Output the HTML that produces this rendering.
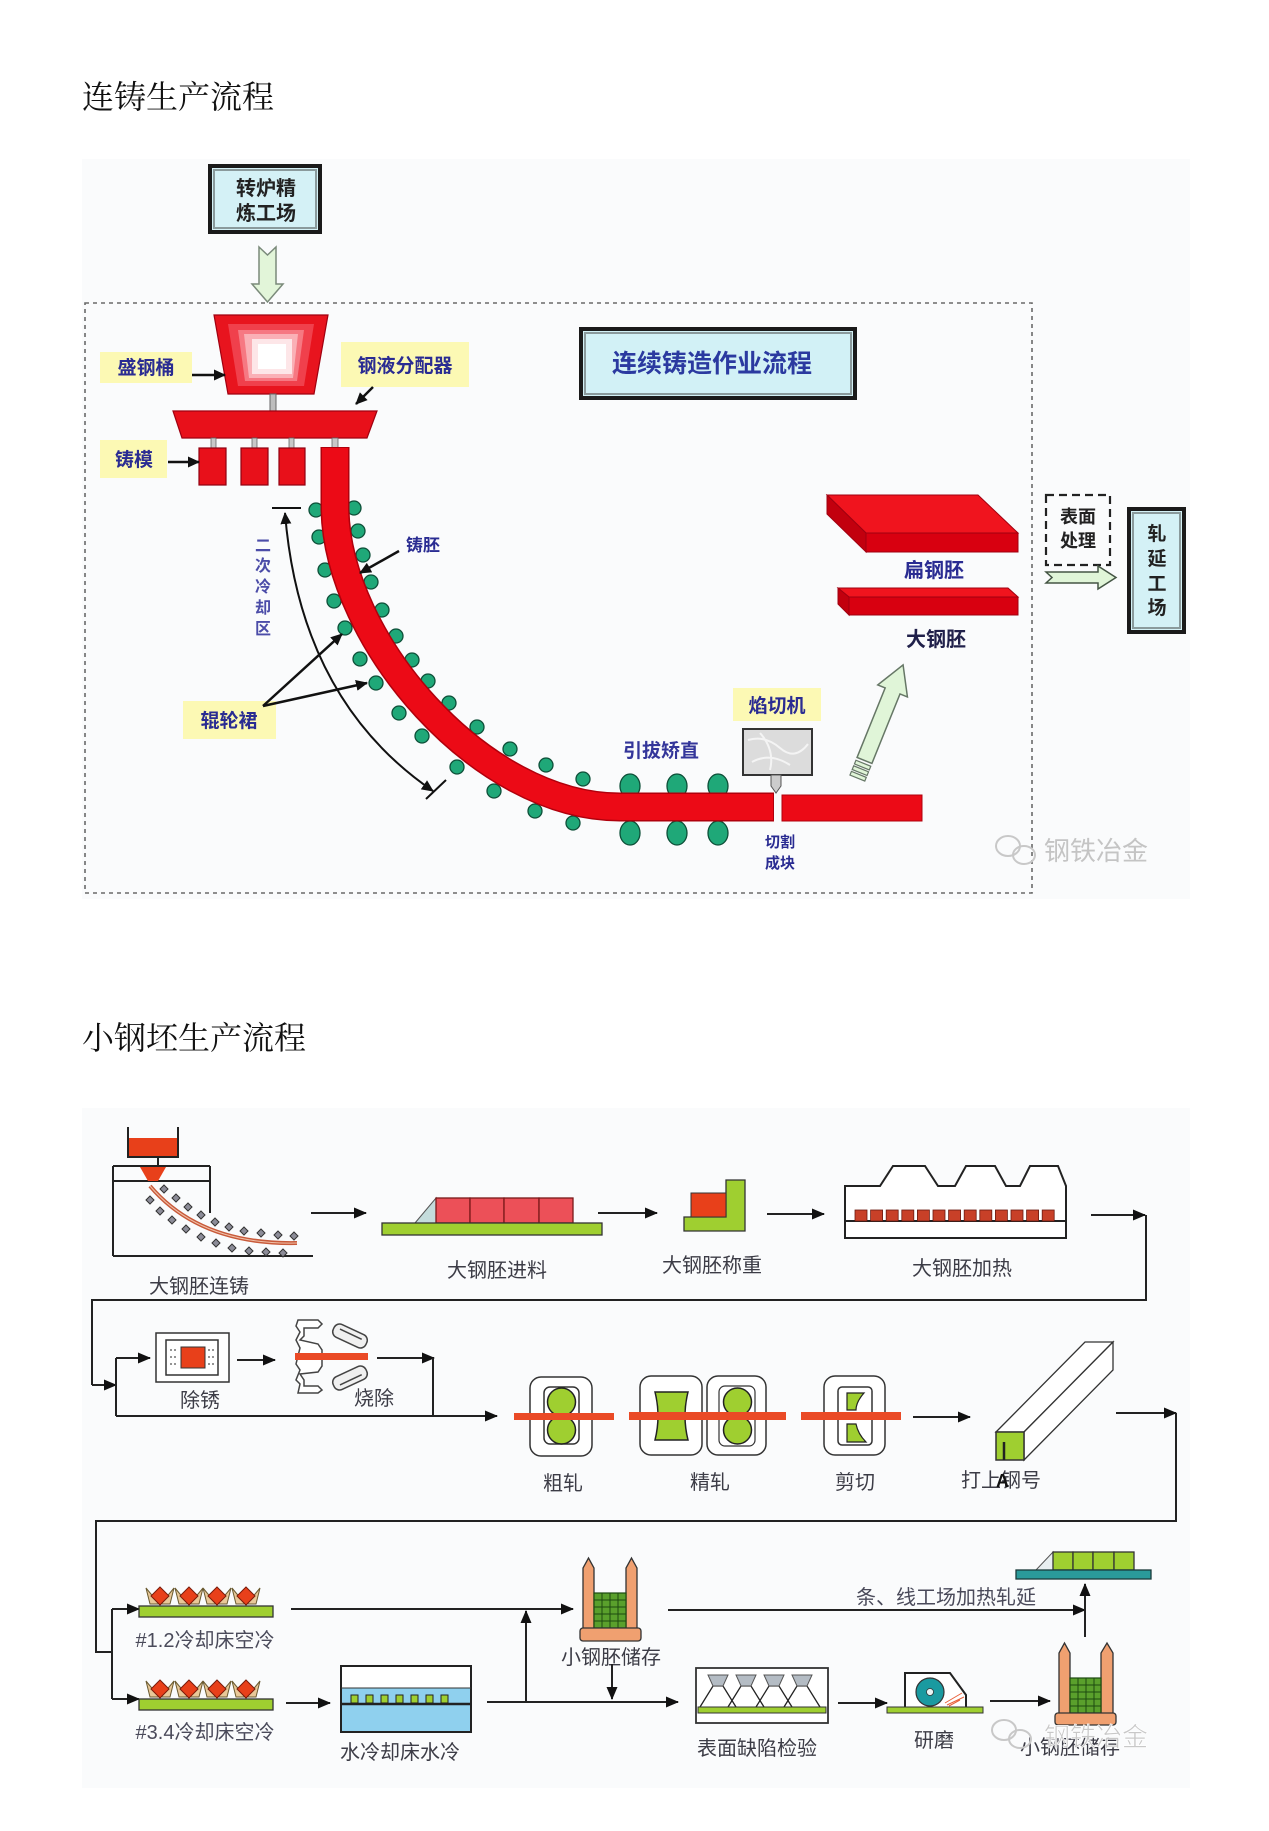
<!DOCTYPE html>
<html><head><meta charset="utf-8">
<style>
html,body{margin:0;padding:0;background:#fff;}
svg{display:block;}
text{font-family:"Liberation Sans","Noto Sans CJK SC",sans-serif;}
.ttl{font-family:"Liberation Serif","Noto Serif CJK SC",serif;font-size:32px;fill:#111;}
.lb{font-weight:bold;fill:#2a2c92;font-size:19px;text-anchor:middle;}
.gl{fill:#3c3c46;font-size:20px;text-anchor:middle;}
.wm{fill:#c4c4c4;font-size:26px;}
</style></head><body>
<svg width="1269" height="1831" viewBox="0 0 1269 1831" xmlns="http://www.w3.org/2000/svg">
<defs>
<marker id="ah" markerWidth="13" markerHeight="11" refX="12" refY="5.5" orient="auto" markerUnits="userSpaceOnUse"><path d="M0,0 L13,5.5 L0,11 z" fill="#111"/></marker>
<marker id="at" markerWidth="12" markerHeight="11" refX="11" refY="5.5" orient="auto" markerUnits="userSpaceOnUse"><path d="M0,0 L12,5.5 L0,11 z" fill="#111"/></marker>
<marker id="atr" markerWidth="12" markerHeight="11" refX="1" refY="5.5" orient="auto" markerUnits="userSpaceOnUse"><path d="M12,0 L0,5.5 L12,11 z" fill="#111"/></marker>
</defs>

<!-- ===== Title 1 ===== -->
<text class="ttl" x="82" y="108">连铸生产流程</text>

<!-- ===== Top diagram ===== -->
<rect x="82" y="159" width="1108" height="740" fill="#fafbfc"/>

<!-- 转炉精炼工场 box -->
<rect x="210" y="166" width="110" height="66" fill="#d4f1f6" stroke="#1a1a1a" stroke-width="4"/>
<rect x="214" y="170" width="102" height="58" fill="none" stroke="#8a9a9c" stroke-width="2"/>
<text x="266" y="195" text-anchor="middle" font-size="20" font-weight="bold" fill="#222">转炉精</text>
<text x="266" y="220" text-anchor="middle" font-size="20" font-weight="bold" fill="#222">炼工场</text>

<!-- down hollow arrow -->
<polygon points="259,247 267.5,255 276,247 276,284 283,284 267.5,302 252,284 259,284" fill="#e2f5d9" stroke="#7a8a7a" stroke-width="1.5"/>

<!-- dotted frame -->
<rect x="85" y="303" width="947" height="590" fill="none" stroke="#6a6a6a" stroke-width="1.6" stroke-dasharray="4,4"/>

<!-- 连续铸造作业流程 -->
<rect x="581" y="329" width="274" height="69" fill="#d2f1f6" stroke="#1a1a1a" stroke-width="4"/>
<rect x="585" y="333" width="266" height="61" fill="none" stroke="#8a9a9c" stroke-width="2"/>
<text x="712" y="372" text-anchor="middle" font-size="25" font-weight="bold" fill="#2b3aa0">连续铸造作业流程</text>

<!-- ladle -->
<polygon points="214,315 328,315 314,394 228,394" fill="#e8141e" stroke="#a00010" stroke-width="1.2"/>
<polygon points="228,324 314,324 304,386 238,386" fill="#f0404c"/>
<polygon points="238,330 304,330 297,381 245,381" fill="#f67882"/>
<polygon points="244,334 298,334 293,378 249,378" fill="#fab0b6"/>
<rect x="252" y="339" width="40" height="35" fill="#fde6e8"/>
<rect x="258" y="344" width="28" height="25" fill="#ffffff"/>
<rect x="270" y="394" width="6" height="17" fill="#bdbdbd" stroke="#666" stroke-width="1"/>

<!-- tundish -->
<polygon points="173,411 377,411 367,438 182,438" fill="#e8101a" stroke="#a00010" stroke-width="1.2"/>
<rect x="211" y="438" width="5" height="11" fill="#c8c8c8" stroke="#666" stroke-width="0.8"/>
<rect x="252" y="438" width="5" height="11" fill="#c8c8c8" stroke="#666" stroke-width="0.8"/>
<rect x="289" y="438" width="5" height="11" fill="#c8c8c8" stroke="#666" stroke-width="0.8"/>
<rect x="332" y="438" width="6" height="11" fill="#c8c8c8" stroke="#666" stroke-width="0.8"/>
<!-- molds -->
<rect x="199" y="448" width="27" height="37" fill="#e8101a" stroke="#900010" stroke-width="1.2"/>
<rect x="241" y="448" width="27" height="37" fill="#e8101a" stroke="#900010" stroke-width="1.2"/>
<rect x="279" y="448" width="26" height="37" fill="#e8101a" stroke="#900010" stroke-width="1.2"/>

<!-- rollers -->
<g fill="#1fa878" stroke="#0d4f38" stroke-width="1.3">
<circle cx="316" cy="510" r="7"/><circle cx="319" cy="537" r="7"/><circle cx="325" cy="570" r="7"/><circle cx="334" cy="601" r="7"/><circle cx="345" cy="628" r="7"/><circle cx="360" cy="659" r="7"/><circle cx="376" cy="683" r="7"/><circle cx="399" cy="713" r="7"/><circle cx="422" cy="736" r="7"/><circle cx="457" cy="767" r="7"/><circle cx="494" cy="791" r="7"/><circle cx="535" cy="811" r="7"/><circle cx="573" cy="823" r="7"/>
<circle cx="354" cy="508" r="7"/><circle cx="358" cy="531" r="7"/><circle cx="363" cy="555" r="7"/><circle cx="371" cy="582" r="7"/><circle cx="382" cy="610" r="7"/><circle cx="396" cy="636" r="7"/><circle cx="412" cy="660" r="7"/><circle cx="428" cy="681" r="7"/><circle cx="449" cy="703" r="7"/><circle cx="477" cy="727" r="7"/><circle cx="510" cy="749" r="7"/><circle cx="546" cy="765" r="7"/><circle cx="583" cy="779" r="7"/>
<ellipse cx="630" cy="786" rx="10" ry="12"/><ellipse cx="677" cy="786" rx="10" ry="12"/><ellipse cx="718" cy="786" rx="10" ry="12"/>
<ellipse cx="630" cy="833" rx="10" ry="12"/><ellipse cx="677" cy="833" rx="10" ry="12"/><ellipse cx="718" cy="833" rx="10" ry="12"/>
</g>

<!-- strand -->
<path d="M335,447 L335,510 C338,640 480,807 620,807 L774,807" fill="none" stroke="#b0000c" stroke-width="29"/>
<path d="M335,448 L335,510 C338,640 480,807 620,807 L773,807" fill="none" stroke="#ec0a16" stroke-width="26"/>
<rect x="782" y="795" width="140" height="26" fill="#ec0a16" stroke="#b0000c" stroke-width="1"/>

<!-- cutter -->
<rect x="743" y="729" width="69" height="46" fill="#dcdcdc" stroke="#333" stroke-width="2"/>
<path d="M748,740 Q765,735 780,748 T808,744 M752,762 Q770,752 790,765 M760,733 Q775,750 770,770" fill="none" stroke="#f4f4f4" stroke-width="2"/>
<path d="M771,775 L781,775 L781,786 L776,793 L771,786 Z" fill="#ccc" stroke="#555" stroke-width="1"/>
<rect x="733" y="688" width="88" height="33" fill="#fcf9b4"/>
<text class="lb" x="777" y="712" font-size="19">焰切机</text>
<text class="lb" x="780" y="847" style="font-size:15px">切割</text>
<text class="lb" x="780" y="868" style="font-size:15px">成块</text>
<text class="lb" x="661" y="757" style="font-size:19px;fill:#34369a">引拔矫直</text>

<!-- diagonal green arrow -->
<g transform="translate(857,779) rotate(22)">
<polygon points="-8,-20 -8,-95 -16,-95 0,-123 16,-95 8,-95 8,-20" fill="#e0f5d8" stroke="#667766" stroke-width="1.5"/>
<rect x="-8" y="-17" width="16" height="4" fill="#e0f5d8" stroke="#667766" stroke-width="1.2"/>
<rect x="-8" y="-11" width="16" height="4" fill="#e0f5d8" stroke="#667766" stroke-width="1.2"/>
<rect x="-8" y="-5" width="16" height="4" fill="#e0f5d8" stroke="#667766" stroke-width="1.2"/>
</g>

<!-- slabs -->
<polygon points="827,495 978,495 1018,533 866,533" fill="#f0141e" stroke="#a00010" stroke-width="1"/>
<polygon points="866,533 1018,533 1018,552 866,552" fill="#d80010" stroke="#a00010" stroke-width="1"/>
<polygon points="827,495 866,533 866,552 827,514" fill="#c2000e" stroke="#a00010" stroke-width="1"/>
<text class="lb" x="934" y="577" style="font-size:20px">扁钢胚</text>
<polygon points="838,588 1008,588 1018,597 849,597" fill="#f0141e" stroke="#a00010" stroke-width="1"/>
<polygon points="849,597 1018,597 1018,615 849,615" fill="#d80010" stroke="#a00010" stroke-width="1"/>
<polygon points="838,588 849,597 849,615 838,604" fill="#c2000e" stroke="#a00010" stroke-width="1"/>
<text x="936" y="646" text-anchor="middle" font-size="20" font-weight="bold" fill="#20204a">大钢胚</text>

<!-- 表面处理 -->
<rect x="1046" y="495" width="64" height="70" fill="none" stroke="#222" stroke-width="2.2" stroke-dasharray="8,5"/>
<text x="1078" y="523" text-anchor="middle" font-size="18" font-weight="bold" fill="#222">表面</text>
<text x="1078" y="547" text-anchor="middle" font-size="18" font-weight="bold" fill="#222">处理</text>
<polygon points="1046,572 1098,572 1098,566 1116,577.5 1098,589 1098,583 1046,583 1052,577.5" fill="#e0f5d8" stroke="#445544" stroke-width="1.5"/>

<!-- 轧延工场 -->
<rect x="1129" y="509" width="55" height="123" fill="#d4f1f6" stroke="#1a1a1a" stroke-width="4"/>
<rect x="1133" y="513" width="47" height="115" fill="none" stroke="#8a9a9c" stroke-width="2"/>
<text x="1157" y="540" text-anchor="middle" font-size="19" font-weight="bold" fill="#222">轧</text>
<text x="1157" y="565" text-anchor="middle" font-size="19" font-weight="bold" fill="#222">延</text>
<text x="1157" y="590" text-anchor="middle" font-size="19" font-weight="bold" fill="#222">工</text>
<text x="1157" y="614" text-anchor="middle" font-size="19" font-weight="bold" fill="#222">场</text>

<!-- labels with yellow -->
<rect x="100" y="352" width="92" height="31" fill="#fcf9b4"/>
<text class="lb" x="146" y="374">盛钢桶</text>
<line x1="192" y1="375" x2="225" y2="375" stroke="#111" stroke-width="2.5" marker-end="url(#at)"/>
<rect x="341" y="342" width="128" height="45" fill="#fcf9b4"/>
<text class="lb" x="405" y="372">钢液分配器</text>
<line x1="373" y1="387" x2="356" y2="404" stroke="#111" stroke-width="2.5" marker-end="url(#at)"/>
<rect x="100" y="440" width="67" height="38" fill="#fcf9b4"/>
<text class="lb" x="134" y="466">铸模</text>
<line x1="168" y1="462" x2="199" y2="462" stroke="#111" stroke-width="2.5" marker-end="url(#at)"/>

<!-- 二次冷却区 -->
<g font-size="16" font-weight="bold" fill="#4b4ca8" text-anchor="middle">
<text x="263" y="551">二</text><text x="263" y="571">次</text><text x="263" y="592">冷</text><text x="263" y="613">却</text><text x="263" y="634">区</text>
</g>
<line x1="272" y1="508" x2="301" y2="508" stroke="#111" stroke-width="2"/>
<line x1="426" y1="799" x2="446" y2="780" stroke="#111" stroke-width="2"/>
<path d="M285,513 Q300,700 433,791" fill="none" stroke="#111" stroke-width="2" marker-start="url(#atr)" marker-end="url(#at)"/>

<!-- 铸胚 -->
<text x="406" y="551" font-size="17" font-weight="bold" fill="#2a2c92">铸胚</text>
<line x1="399" y1="551" x2="360" y2="573" stroke="#111" stroke-width="2.5" marker-end="url(#at)"/>

<!-- 辊轮裙 -->
<rect x="183" y="701" width="93" height="38" fill="#fcf9b4"/>
<text class="lb" x="229" y="727">辊轮裙</text>
<line x1="263" y1="706" x2="342" y2="634" stroke="#111" stroke-width="2.5" marker-end="url(#at)"/>
<line x1="263" y1="706" x2="367" y2="683" stroke="#111" stroke-width="2.5" marker-end="url(#at)"/>

<!-- watermark 1 -->
<g fill="none" stroke="#c8c8c8" stroke-width="2">
<ellipse cx="1008" cy="846" rx="12" ry="10"/><ellipse cx="1024" cy="855" rx="11" ry="9"/>
</g>
<text class="wm" x="1044" y="860">钢铁冶金</text>

<!-- ===== Title 2 ===== -->
<text class="ttl" x="82" y="1049">小钢坯生产流程</text>

<!-- ===== Bottom diagram ===== -->
<rect x="82" y="1108" width="1108" height="680" fill="#fafbfc"/>

<g stroke="#222" stroke-width="2" fill="none">
<!-- caster icon -->
<path d="M128,1127 L128,1157 L178,1157 L178,1127"/>
<line x1="158" y1="1157" x2="158" y2="1166"/>
<line x1="113" y1="1166" x2="210" y2="1166"/>
<line x1="113" y1="1181" x2="210" y2="1181"/>
<line x1="113" y1="1166" x2="113" y2="1256"/>
<line x1="210" y1="1166" x2="210" y2="1213"/>
<line x1="113" y1="1256" x2="313" y2="1256"/>
</g>
<rect x="129" y="1138" width="48" height="18" fill="#e8401a"/>
<polygon points="140,1167 166,1167 158,1181 148,1181" fill="#e8401a"/>
<g fill="#8c8c98" stroke="#333" stroke-width="1">
<polygon points="164,1185 168,1189 164,1193 160,1189"/><polygon points="176,1194 180,1198 176,1202 172,1198"/><polygon points="188,1203 192,1207 188,1211 184,1207"/><polygon points="201,1211 205,1215 201,1219 197,1215"/><polygon points="215,1218 219,1222 215,1226 211,1222"/><polygon points="229,1223 233,1227 229,1231 225,1227"/><polygon points="244,1227 248,1231 244,1235 240,1231"/><polygon points="261,1229 265,1233 261,1237 257,1233"/><polygon points="278,1231 282,1235 278,1239 274,1235"/><polygon points="294,1232 298,1236 294,1240 290,1236"/>
<polygon points="150,1196 154,1200 150,1204 146,1200"/><polygon points="160,1207 164,1211 160,1215 156,1211"/><polygon points="172,1216 176,1220 172,1224 168,1220"/><polygon points="186,1225 190,1229 186,1233 182,1229"/><polygon points="201,1233 205,1237 201,1241 197,1237"/><polygon points="216,1239 220,1243 216,1247 212,1243"/><polygon points="232,1244 236,1248 232,1252 228,1248"/><polygon points="249,1247 253,1251 249,1255 245,1251"/><polygon points="266,1248 270,1252 266,1256 262,1252"/><polygon points="283,1249 287,1253 283,1257 279,1253"/>
</g>
<path d="M150,1186 Q200,1245 297,1243" fill="none" stroke="#c85a3a" stroke-width="4"/>
<path d="M150,1186 Q200,1245 297,1243" fill="none" stroke="#f0c0a8" stroke-width="1"/>
<text class="gl" x="199" y="1293">大钢胚连铸</text>

<!-- arrow1 -->
<line x1="311" y1="1213" x2="366" y2="1213" stroke="#222" stroke-width="2" marker-end="url(#ah)"/>
<!-- 进料 -->
<polygon points="415,1223 436,1198 436,1223" fill="#c4dcdc" stroke="#555" stroke-width="1"/>
<g fill="#ec5058" stroke="#7a1a1a" stroke-width="1.3">
<rect x="436" y="1198" width="34" height="25"/><rect x="470" y="1198" width="34" height="25"/><rect x="504" y="1198" width="35" height="25"/><rect x="539" y="1198" width="34" height="25"/>
</g>
<rect x="382" y="1223" width="220" height="12" fill="#9fcf30" stroke="#333" stroke-width="1.3"/>
<text class="gl" x="497" y="1277">大钢胚进料</text>
<!-- arrow2 -->
<line x1="598" y1="1213" x2="657" y2="1213" stroke="#222" stroke-width="2" marker-end="url(#ah)"/>
<!-- 称重 -->
<polygon points="684,1217 726,1217 726,1180 745,1180 745,1231 684,1231" fill="#9fcf30" stroke="#333" stroke-width="1.3"/>
<rect x="691" y="1193" width="35" height="24" fill="#e8401a" stroke="#333" stroke-width="1"/>
<text class="gl" x="712" y="1272">大钢胚称重</text>
<!-- arrow3 -->
<line x1="767" y1="1214" x2="824" y2="1214" stroke="#222" stroke-width="2" marker-end="url(#ah)"/>
<!-- furnace -->
<path d="M845,1238 L845,1186 L880,1186 L893,1166 L925,1166 L938,1186 L955,1186 L966,1166 L995,1166 L1006,1186 L1020,1186 L1030,1166 L1058,1166 L1066,1186 L1066,1238 Z" fill="#fff" stroke="#222" stroke-width="2"/>
<line x1="845" y1="1221" x2="1066" y2="1221" stroke="#222" stroke-width="2"/>
<g fill="#c84028" stroke="#6a1a10" stroke-width="0.8">
<rect x="855" y="1210" width="12" height="11"/><rect x="870.6" y="1210" width="12" height="11"/><rect x="886.2" y="1210" width="12" height="11"/><rect x="901.8" y="1210" width="12" height="11"/><rect x="917.4" y="1210" width="12" height="11"/><rect x="933" y="1210" width="12" height="11"/><rect x="948.6" y="1210" width="12" height="11"/><rect x="964.2" y="1210" width="12" height="11"/><rect x="979.8" y="1210" width="12" height="11"/><rect x="995.4" y="1210" width="12" height="11"/><rect x="1011" y="1210" width="12" height="11"/><rect x="1026.6" y="1210" width="12" height="11"/><rect x="1042.2" y="1210" width="12" height="11"/>
</g>
<text class="gl" x="962" y="1275">大钢胚加热</text>
<!-- arrow4 + loop -->
<line x1="1091" y1="1215" x2="1145" y2="1215" stroke="#222" stroke-width="2" marker-end="url(#ah)"/>
<polyline points="1146,1215 1146,1300 92,1300 92,1385" fill="none" stroke="#222" stroke-width="2"/>
<line x1="92" y1="1385" x2="116" y2="1385" stroke="#222" stroke-width="2" marker-end="url(#ah)"/>

<!-- Row 2 -->
<line x1="116" y1="1358" x2="116" y2="1416" stroke="#222" stroke-width="2"/>
<line x1="116" y1="1358" x2="150" y2="1358" stroke="#222" stroke-width="2" marker-end="url(#ah)"/>
<rect x="156" y="1333" width="73" height="49" fill="#fff" stroke="#333" stroke-width="1.5"/>
<rect x="166" y="1340" width="52" height="35" fill="#fff" stroke="#333" stroke-width="1.5"/>
<rect x="181" y="1347" width="24" height="21" fill="#e8401a" stroke="#333" stroke-width="1"/>
<g stroke="#555" stroke-width="1.2" stroke-dasharray="2,2">
<line x1="170" y1="1350" x2="178" y2="1350"/><line x1="170" y1="1357" x2="178" y2="1357"/><line x1="170" y1="1364" x2="178" y2="1364"/>
<line x1="208" y1="1350" x2="215" y2="1350"/><line x1="208" y1="1357" x2="215" y2="1357"/><line x1="208" y1="1364" x2="215" y2="1364"/>
</g>
<text class="gl" x="200" y="1407">除锈</text>
<line x1="237" y1="1360" x2="275" y2="1360" stroke="#222" stroke-width="2" marker-end="url(#ah)"/>
<!-- 烧除 icon -->
<path d="M298,1320 L318,1320 L322,1324 L318,1328 L304,1328 L304,1336 L300,1340 L318,1344 L322,1350 L322,1366 L318,1372 L300,1374 L304,1380 L304,1386 L318,1386 L322,1390 L318,1393 L298,1393 L300,1384 L296,1380 L300,1370 L296,1364 L300,1348 L296,1340 L300,1332 L296,1326 Z" fill="#fff" stroke="#444" stroke-width="1.5"/>
<g transform="translate(350,1336) rotate(25)"><rect x="-18" y="-7" width="36" height="14" rx="6" fill="#f0f0f0" stroke="#444" stroke-width="1.5"/><line x1="-12" y1="-2" x2="12" y2="-2" stroke="#444" stroke-width="1.5"/></g>
<g transform="translate(350,1378) rotate(-25)"><rect x="-18" y="-7" width="36" height="14" rx="6" fill="#f0f0f0" stroke="#444" stroke-width="1.5"/><line x1="-12" y1="2" x2="12" y2="2" stroke="#444" stroke-width="1.5"/></g>
<rect x="295" y="1353" width="73" height="7" fill="#ea4a26"/>
<text class="gl" x="374" y="1405">烧除</text>
<line x1="377" y1="1358" x2="434" y2="1358" stroke="#222" stroke-width="2" marker-end="url(#ah)"/>
<line x1="433" y1="1358" x2="433" y2="1416" stroke="#222" stroke-width="2"/>
<line x1="116" y1="1416" x2="497" y2="1416" stroke="#222" stroke-width="2" marker-end="url(#ah)"/>

<!-- 粗轧 -->
<rect x="530" y="1377" width="62" height="79" rx="11" fill="#fff" stroke="#333" stroke-width="1.5"/>
<rect x="544" y="1387" width="35" height="57" rx="6" fill="#fff" stroke="#333" stroke-width="1.5"/>
<circle cx="561.5" cy="1402" r="14" fill="#9fcf30" stroke="#222" stroke-width="1.5"/>
<circle cx="561.5" cy="1430" r="14" fill="#9fcf30" stroke="#222" stroke-width="1.5"/>
<rect x="514" y="1413" width="100" height="7" fill="#ea4a26"/>
<text class="gl" x="563" y="1490">粗轧</text>

<!-- 精轧 -->
<rect x="640" y="1376" width="62" height="79" rx="11" fill="#fff" stroke="#333" stroke-width="1.5"/>
<rect x="707" y="1376" width="59" height="79" rx="11" fill="#fff" stroke="#333" stroke-width="1.5"/>
<path d="M655,1392 L688,1392 Q682,1416 688,1440 L655,1440 Q661,1416 655,1392 Z" fill="#9fcf30" stroke="#222" stroke-width="1.5"/>
<rect x="719" y="1386" width="36" height="60" rx="6" fill="#fff" stroke="#333" stroke-width="1.2"/>
<circle cx="737.5" cy="1402" r="14" fill="#9fcf30" stroke="#222" stroke-width="1.5"/>
<circle cx="737.5" cy="1430" r="14" fill="#9fcf30" stroke="#222" stroke-width="1.5"/>
<rect x="629" y="1412" width="157" height="8" fill="#ea4a26"/>
<text class="gl" x="710" y="1489">精轧</text>

<!-- 剪切 -->
<rect x="824" y="1376" width="61" height="79" rx="11" fill="#fff" stroke="#333" stroke-width="1.5"/>
<rect x="838" y="1387" width="34" height="58" rx="4" fill="#fff" stroke="#333" stroke-width="1.5"/>
<path d="M847,1393 L864,1393 Q856,1402 856,1410 L847,1410 Z" fill="#9fcf30" stroke="#222" stroke-width="1.2"/>
<path d="M847,1424 L856,1424 Q858,1434 866,1442 L847,1442 Z" fill="#9fcf30" stroke="#222" stroke-width="1.2"/>
<rect x="801" y="1412" width="100" height="8" fill="#ea4a26"/>
<text class="gl" x="855" y="1489">剪切</text>
<line x1="913" y1="1417" x2="970" y2="1417" stroke="#222" stroke-width="2" marker-end="url(#ah)"/>

<!-- bar -->
<polygon points="996,1432 1085,1342 1113,1342 1024,1432" fill="#fff" stroke="#333" stroke-width="1.3"/>
<polygon points="1024,1432 1113,1342 1113,1370 1024,1460" fill="#fff" stroke="#333" stroke-width="1.3"/>
<rect x="996" y="1432" width="28" height="28" fill="#9fcf30" stroke="#333" stroke-width="1.5"/>
<line x1="1004" y1="1442" x2="1004" y2="1460" stroke="#222" stroke-width="2.5"/>
<text class="gl" x="1001" y="1487">打上钢号</text>
<text x="996" y="1487" font-size="18" font-weight="bold" fill="#111">A</text>
<line x1="1116" y1="1413" x2="1176" y2="1413" stroke="#222" stroke-width="2" marker-end="url(#ah)"/>
<polyline points="1176,1413 1176,1521 96,1521 96,1652 112,1652" fill="none" stroke="#222" stroke-width="2"/>
<line x1="112" y1="1609" x2="112" y2="1699" stroke="#222" stroke-width="2"/>
<line x1="112" y1="1609" x2="139" y2="1609" stroke="#222" stroke-width="2" marker-end="url(#ah)"/>
<line x1="112" y1="1699" x2="139" y2="1699" stroke="#222" stroke-width="2" marker-end="url(#ah)"/>

<!-- Row 3: cooling beds -->
<g>
<g fill="#e8c898" stroke="#6a5a30" stroke-width="1">
<polygon points="146,1588 160,1605 174,1588 170,1604 150,1604"/><polygon points="175,1588 189,1605 203,1588 199,1604 179,1604"/><polygon points="203,1588 217,1605 231,1588 227,1604 207,1604"/><polygon points="232,1588 246,1605 260,1588 256,1604 236,1604"/>
<polygon points="146,1681 160,1698 174,1681 170,1697 150,1697"/><polygon points="175,1681 189,1698 203,1681 199,1697 179,1697"/><polygon points="203,1681 217,1698 231,1681 227,1697 207,1697"/><polygon points="232,1681 246,1698 260,1681 256,1697 236,1697"/>
</g>
<g fill="#e8401a" stroke="#7a1a0a" stroke-width="1">
<polygon points="160,1587 169,1596 160,1605 151,1596"/><polygon points="189,1587 198,1596 189,1605 180,1596"/><polygon points="217,1587 226,1596 217,1605 208,1596"/><polygon points="246,1587 255,1596 246,1605 237,1596"/>
<polygon points="160,1680 169,1689 160,1698 151,1689"/><polygon points="189,1680 198,1689 189,1698 180,1689"/><polygon points="217,1680 226,1689 217,1698 208,1689"/><polygon points="246,1680 255,1689 246,1698 237,1689"/>
</g>
<rect x="139" y="1606" width="134" height="11" fill="#9fcf30" stroke="#333" stroke-width="1.3"/>
<rect x="139" y="1699" width="134" height="11" fill="#9fcf30" stroke="#333" stroke-width="1.3"/>
</g>
<text class="gl" x="205" y="1647" style="fill:#4a4a5a">#1.2冷却床空冷</text>
<text class="gl" x="205" y="1739" style="fill:#4a4a5a">#3.4冷却床空冷</text>
<line x1="291" y1="1609" x2="573" y2="1609" stroke="#222" stroke-width="2" marker-end="url(#ah)"/>
<line x1="526" y1="1702" x2="526" y2="1611" stroke="#222" stroke-width="2" marker-end="url(#ah)"/>
<line x1="286" y1="1703" x2="330" y2="1703" stroke="#222" stroke-width="2" marker-end="url(#ah)"/>

<!-- water cooling -->
<rect x="341" y="1666" width="130" height="66" fill="#fff" stroke="#222" stroke-width="2"/>
<rect x="342" y="1688" width="128" height="43" fill="#8fd0ee"/>
<line x1="341" y1="1688" x2="471" y2="1688" stroke="#333" stroke-width="1"/>
<g fill="#9fcf30" stroke="#222" stroke-width="1">
<rect x="351" y="1695" width="7" height="8"/><rect x="366" y="1695" width="7" height="8"/><rect x="381" y="1695" width="7" height="8"/><rect x="396" y="1695" width="7" height="8"/><rect x="411" y="1695" width="7" height="8"/><rect x="426" y="1695" width="7" height="8"/><rect x="441" y="1695" width="7" height="8"/>
</g>
<line x1="341" y1="1704" x2="471" y2="1704" stroke="#222" stroke-width="2.5"/>
<text class="gl" x="400" y="1759">水冷却床水冷</text>
<line x1="487" y1="1702" x2="678" y2="1702" stroke="#222" stroke-width="2" marker-end="url(#ah)"/>

<!-- storage 1 -->
<g fill="#f0a070" stroke="#333" stroke-width="1.3">
<path d="M583,1640 L583,1568 L588.5,1558 L594,1568 L594,1640 Z"/>
<path d="M626,1640 L626,1568 L631.5,1558 L637,1568 L637,1640 Z"/>
</g>
<rect x="594" y="1593" width="32" height="35" fill="#5aa02c" stroke="#1d4a10" stroke-width="1.2"/>
<g stroke="#1d4a10" stroke-width="1">
<line x1="602" y1="1593" x2="602" y2="1628"/><line x1="610" y1="1593" x2="610" y2="1628"/><line x1="618" y1="1593" x2="618" y2="1628"/>
<line x1="594" y1="1600" x2="626" y2="1600"/><line x1="594" y1="1607" x2="626" y2="1607"/><line x1="594" y1="1614" x2="626" y2="1614"/><line x1="594" y1="1621" x2="626" y2="1621"/>
</g>
<rect x="580" y="1628" width="61" height="13" rx="3" fill="#f0a070" stroke="#333" stroke-width="1.3"/>
<text class="gl" x="611" y="1664">小钢胚储存</text>
<line x1="612" y1="1664" x2="612" y2="1699" stroke="#222" stroke-width="2" marker-end="url(#ah)"/>

<line x1="668" y1="1610" x2="1085" y2="1610" stroke="#222" stroke-width="2" marker-end="url(#ah)"/>
<text class="gl" x="946" y="1604" style="fill:#4a4a5a">条、线工场加热轧延</text>
<line x1="1085" y1="1637" x2="1085" y2="1584" stroke="#222" stroke-width="2" marker-end="url(#ah)"/>
<!-- product top right -->
<polygon points="1036,1570 1053,1552 1053,1570" fill="#e8eef0" stroke="#555" stroke-width="1"/>
<g fill="#9fcf30" stroke="#333" stroke-width="1.3">
<rect x="1053" y="1552" width="20" height="18"/><rect x="1073" y="1552" width="20" height="18"/><rect x="1093" y="1552" width="21" height="18"/><rect x="1114" y="1552" width="20" height="18"/>
</g>
<rect x="1016" y="1570" width="135" height="9" fill="#2a9a9a" stroke="#1a3a3a" stroke-width="1.3"/>

<!-- 表面缺陷检验 -->
<rect x="696" y="1668" width="132" height="55" fill="#fff" stroke="#333" stroke-width="1.8"/>
<g stroke="#222" stroke-width="1.3" fill="none">
<polyline points="700,1707 713,1686 723,1686 736,1707"/>
<polyline points="728,1707 741,1686 751,1686 764,1707"/>
<polyline points="756,1707 769,1686 779,1686 792,1707"/>
<polyline points="784,1707 797,1686 807,1686 820,1707"/>
</g>
<g fill="#b4bcc4" stroke="#555" stroke-width="1">
<polygon points="708,1675 728,1675 723,1686 713,1686"/><polygon points="736,1675 756,1675 751,1686 741,1686"/><polygon points="764,1675 784,1675 779,1686 769,1686"/><polygon points="792,1675 812,1675 807,1686 797,1686"/>
</g>
<rect x="698" y="1707" width="128" height="6" fill="#9fcf30" stroke="#333" stroke-width="1"/>
<text class="gl" x="757" y="1755">表面缺陷检验</text>
<line x1="838" y1="1703" x2="887" y2="1703" stroke="#222" stroke-width="2" marker-end="url(#ah)"/>

<!-- 研磨 -->
<path d="M905,1707 L905,1673 L950,1673 L966,1695 L966,1707" fill="#fff" stroke="#222" stroke-width="2"/>
<circle cx="930" cy="1692" r="14" fill="#1a9aa0" stroke="#333" stroke-width="1.2"/>
<circle cx="930" cy="1692" r="3.5" fill="#e8f4f4" stroke="#333" stroke-width="0.8"/>
<path d="M945,1703 L962,1693 M947,1705 L964,1697 M949,1706 L960,1700" stroke="#e8603a" stroke-width="1"/>
<rect x="887" y="1707" width="96" height="6" fill="#9fcf30" stroke="#333" stroke-width="1"/>
<text class="gl" x="934" y="1747">研磨</text>
<line x1="990" y1="1701" x2="1050" y2="1701" stroke="#222" stroke-width="2" marker-end="url(#ah)"/>

<!-- storage 2 -->
<g fill="#f0a070" stroke="#333" stroke-width="1.3">
<path d="M1059,1717 L1059,1653 L1064.5,1643 L1070,1653 L1070,1717 Z"/>
<path d="M1101,1717 L1101,1653 L1107,1643 L1113,1653 L1113,1717 Z"/>
</g>
<rect x="1070" y="1678" width="31" height="35" fill="#5aa02c" stroke="#1d4a10" stroke-width="1.2"/>
<g stroke="#1d4a10" stroke-width="1">
<line x1="1078" y1="1678" x2="1078" y2="1713"/><line x1="1086" y1="1678" x2="1086" y2="1713"/><line x1="1094" y1="1678" x2="1094" y2="1713"/>
<line x1="1070" y1="1685" x2="1101" y2="1685"/><line x1="1070" y1="1692" x2="1101" y2="1692"/><line x1="1070" y1="1699" x2="1101" y2="1699"/><line x1="1070" y1="1706" x2="1101" y2="1706"/>
</g>
<rect x="1055" y="1713" width="61" height="12" rx="3" fill="#f0a070" stroke="#333" stroke-width="1.3"/>
<text class="gl" x="1070" y="1754">小钢胚储存</text>

<!-- watermark 2 -->
<g fill="none" stroke="#c8c8c8" stroke-width="2">
<ellipse cx="1004" cy="1730" rx="12" ry="10"/><ellipse cx="1020" cy="1739" rx="11" ry="9"/>
</g>
<text class="wm" x="1044" y="1746" style="fill:#c8c8c8;stroke:#fff;stroke-width:0.6">钢铁冶金</text>

</svg>
</body></html>
